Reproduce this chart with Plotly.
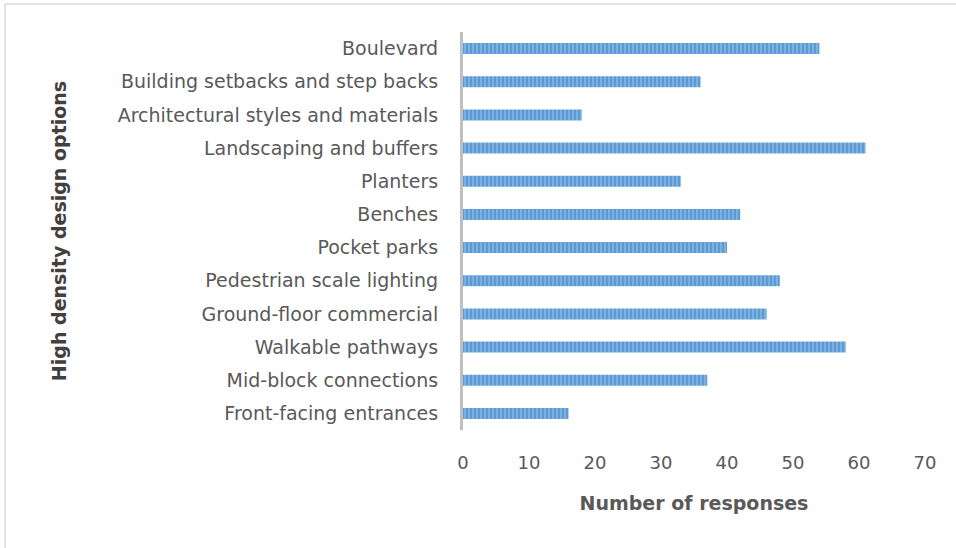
import plotly.graph_objects as go

categories = [
    "Boulevard",
    "Building setbacks and step backs",
    "Architectural styles and materials",
    "Landscaping and buffers",
    "Planters",
    "Benches",
    "Pocket parks",
    "Pedestrian scale lighting",
    "Ground-floor commercial",
    "Walkable pathways",
    "Mid-block connections",
    "Front-facing entrances",
]
responses = [54, 36, 18, 61, 33, 42, 40, 48, 46, 58, 37, 16]
x_ticks = [0, 10, 20, 30, 40, 50, 60, 70]

W, H = 956, 548
L, R, T, B = 463, 31, 32, 118
pw, ph = W - L - R, H - T - B

fig = go.Figure(
    go.Bar(
        x=responses,
        y=categories,
        orientation="h",
        marker=dict(
            color="#5B9BD5",
            line=dict(width=0),
            pattern=dict(shape="|", fgcolor="#A9CBEB", bgcolor="#5B9BD5", size=4, solidity=0.45),
        ),
        width=0.33,
    )
)

font_family = "DejaVu Sans, sans-serif"
fig.update_layout(
    width=W,
    height=H,
    margin=dict(l=L, r=R, t=T, b=B),
    paper_bgcolor="white",
    plot_bgcolor="white",
    showlegend=False,
    font=dict(family=font_family, color="#595959", size=19),
    xaxis=dict(
        range=[0, 70],
        tickvals=x_ticks,
        showgrid=False,
        zeroline=False,
        showline=False,
        ticks="",
        ticklabelstandoff=20,
        tickfont=dict(size=18, color="#595959"),
        title=dict(text="<b>Number of responses</b>", font=dict(size=19, color="#595959"), standoff=24),
    ),
    yaxis=dict(
        categoryorder="array",
        categoryarray=categories[::-1],
        range=[-0.5, 11.5],
        showgrid=False,
        zeroline=False,
        showline=True,
        linecolor="#BFBFBF",
        linewidth=3,
        ticks="",
        ticklabelstandoff=18,
        tickfont=dict(size=19, color="#595959"),
        title=dict(text="<b>High density design options</b>", font=dict(size=19, color="#404040"), standoff=47),
    ),
    shapes=[
        dict(type="line", xref="paper", yref="paper",
             x0=(5 - L) / pw, x1=(W - L) / pw, y0=1 + (T - 4) / ph, y1=1 + (T - 4) / ph,
             line=dict(color="#D9D9D9", width=1.5)),
        dict(type="line", xref="paper", yref="paper",
             x0=(5 - L) / pw, x1=(5 - L) / pw, y0=1 + (T - 4) / ph, y1=-(B) / ph,
             line=dict(color="#D9D9D9", width=1.5)),
    ],
)

fig.write_html("out.html")
